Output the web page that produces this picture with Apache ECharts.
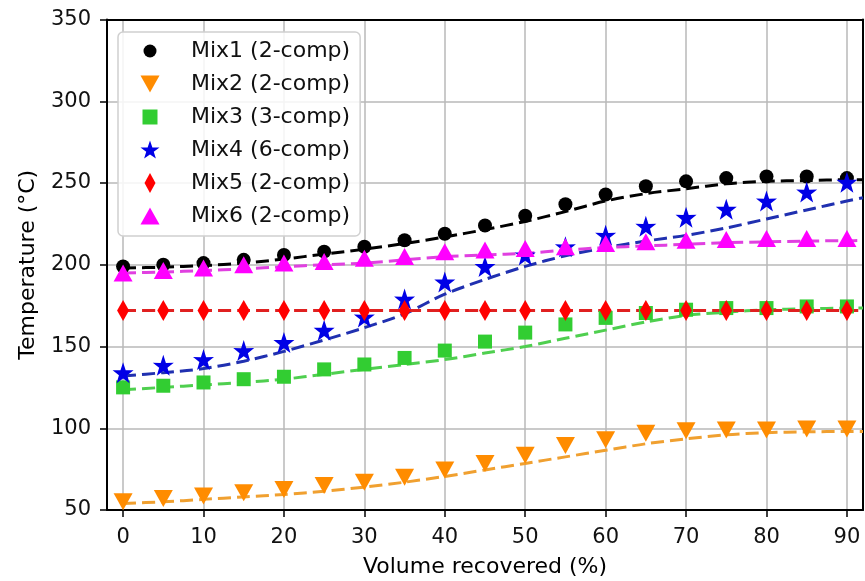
<!DOCTYPE html>
<html>
<head>
<meta charset="utf-8">
<script src="https://cdn.jsdelivr.net/npm/echarts@6/dist/echarts.min.js"></script>
<style>html,body{margin:0;padding:0;background:#fff}#c{width:865px;height:581px}</style>
</head>
<body>
<div id="c"></div>
<script>
// Measured data (x = volume recovered %, y = temperature °C)
const xs = [0,5,10,15,20,25,30,35,40,45,50,55,60,65,70,75,80,85,90];
const mix1 = [199,200,201,203,206,208,211,215,219,224,230,237,243,248,251,253,254,254,253];
const mix2 = [55,57,58.5,60.5,62.5,65,67,70,74.5,78.5,83.5,89.5,93,97,98.5,99,99,99.5,99.5];
const mix3 = [125,126,128,130,131.5,136,139,143,147.5,153,158.5,163.5,167.5,170.5,172.5,173.5,173.5,174.5,174.5];
const mix4 = [134,138.5,142,147.5,152.5,160,168,179,189.5,199,206,211,218,223.5,229,234,239,244.5,250.5];
const mix5 = [172,172,172,172,172,172,172,172,172,172,172,172,172,172,172,172,172,172,172];
const mix6 = [195,196.5,198,200,201,202,204,205,208,209,210,211,213,214,215,215.5,216,216,216];

// Fitted (dashed) curves
const fitX = [0,5,10,15,20,25,30,35,40,45,50,55,60,65,70,75,80,85,90,92];
const fit1 = [198,198.5,199.5,201,203.5,206.5,209.5,213,217,221.5,226.5,232.5,239,243.5,246.5,249.5,251,251.5,252,252];
const fit2 = [54,55,56.5,58,59.5,61.5,64,67,70.5,74.5,78.5,82.5,86.5,90.5,93.5,96,97.3,97.8,98,98];
const fit3 = [123.5,125,126.5,128,130,133,136,139,142,146,150,155,160,165,169,171,172.5,173,173.5,173.5];
const fit4 = [132,134,136.5,141,147,154,161.5,170,182,191,199,205.5,210.5,214.5,218,222.5,228,233.5,239,241];
const fit5 = [172,172,172,172,172,172,172,172,172,172,172,172,172,172,172,172,172,172,172,172];
const fit6 = [195,195.5,196.5,197.5,198.8,200,201,203,205,206,207,209,210.5,211.5,212.5,213.5,214,214.5,214.7,214.8];

const names = ['Mix1 (2-comp)','Mix2 (2-comp)','Mix3 (3-comp)','Mix4 (6-comp)','Mix5 (2-comp)','Mix6 (2-comp)'];
const xTicks = [0,10,20,30,40,50,60,70,80,90];

const STAR = 'path://M50,0 L61.8,35.1 L97.6,34.5 L68.8,56.2 L79.4,90.5 L50,70 L20.6,90.5 L31.2,56.2 L2.4,34.5 L38.2,35.1 Z';
const DOWN = 'path://M0,0 L10,0 L5,9 Z';
const UP = 'path://M5,0 L10,9 L0,9 Z';
const DIAM = 'path://M5,0 L10,8 L5,16 L0,8 Z';

// legend icons padded to a 20x20 box
const L_CIRCLE = 'path://M0,0 M20,20 M3.5,10 A6.5,6.5 0 1 1 16.5,10 A6.5,6.5 0 1 1 3.5,10 Z';
const L_DOWN = 'path://M0,0 M20,20 M0.5,1.5 L19.5,1.5 L10,18.5 Z';
const L_RECT = 'path://M0,0 M20,20 M2.5,2.5 L17.5,2.5 L17.5,17.5 L2.5,17.5 Z';
const L_STAR = 'path://M0,0 M20,20 M10,0.5 L12.36,7.52 L19.52,7.4 L13.76,11.74 L15.88,18.6 L10,14.5 L4.12,18.6 L6.24,11.74 L0.48,7.4 L7.64,7.52 Z';
const L_DIAM = 'path://M0,0 M20,20 M10,0 L15.5,10 L10,20 L4.5,10 Z';
const L_UP = 'path://M0,0 M20,20 M10,1.5 L19.5,18.5 L0.5,18.5 Z';

const markers = [
  {d: mix1, f: fit1, color: '#000000', line: '#000000', symbol: 'circle', size: 14, icon: L_CIRCLE},
  {d: mix2, f: fit2, color: '#ff8c00', line: '#f0a030', symbol: DOWN, size: [19,17], icon: L_DOWN},
  {d: mix3, f: fit3, color: '#32cd32', line: '#4fcf4f', symbol: 'rect', size: 14, icon: L_RECT},
  {d: mix4, f: fit4, color: '#0000e6', line: '#2030b0', symbol: STAR, size: 21, icon: L_STAR},
  {d: mix5, f: fit5, color: '#ff0000', line: '#e02020', symbol: DIAM, size: [12,21], icon: L_DIAM},
  {d: mix6, f: fit6, color: '#ff00ff', line: '#e040e0', symbol: UP, size: [19,17], icon: L_UP}
];

const pair = (xa, ya) => xa.map((x, i) => [x, ya[i]]);

const series = [];
markers.forEach((m) => {
  series.push({
    type: 'line', name: 'fit', data: pair(fitX, m.f), showSymbol: false, symbol: 'none',
    smooth: 0.3, z: 2, clip: true, silent: true,
    lineStyle: {color: m.line, width: 3, type: [13,6]}
  });
});
markers.forEach((m, i) => {
  series.push({
    type: 'scatter', name: names[i], data: pair(xs, m.d), symbol: m.symbol, symbolSize: m.size,
    z: 3, itemStyle: {color: m.color, opacity: 1}
  });
});

const font = 'DejaVu Sans';
const chart = echarts.init(document.getElementById('c'), null, {renderer: 'canvas'});
chart.setOption({
  animation: false,
  backgroundColor: '#fff',
  grid: {left: 107, top: 19.5, right: 2, bottom: 71, outerBoundsMode: 'none', containLabel: false},
  xAxis: [{
    type: 'value', min: -2, max: 92,
    name: 'Volume recovered (%)', nameLocation: 'middle', nameGap: 46,
    nameTextStyle: {fontFamily: font, fontSize: 22, color: '#000'},
    axisLine: {show: true, onZero: false, lineStyle: {color: '#000', width: 2}},
    axisTick: {show: true, inside: false, length: 7, customValues: xTicks, lineStyle: {color: '#000', width: 1.5}},
    axisLabel: {customValues: xTicks, margin: 17, fontFamily: font, fontSize: 21, color: '#111'},
    splitLine: {show: true, lineStyle: {color: '#b8b8b8', width: 1.5}}
  }, {
    type: 'value', min: -2, max: 92, position: 'top',
    axisLine: {show: true, onZero: false, lineStyle: {color: '#000', width: 2}},
    axisTick: {show: false}, axisLabel: {show: false}, splitLine: {show: false}
  }],
  yAxis: [{
    type: 'value', min: 50, max: 350, interval: 50,
    name: 'Temperature (°C)', nameLocation: 'middle', nameGap: 68,
    nameTextStyle: {fontFamily: font, fontSize: 22, color: '#000'},
    axisLine: {show: true, onZero: false, lineStyle: {color: '#000', width: 2}},
    axisTick: {show: true, inside: false, length: 7, lineStyle: {color: '#000', width: 1.5}},
    axisLabel: {margin: 16, fontFamily: font, fontSize: 21, color: '#111'},
    splitLine: {show: true, lineStyle: {color: '#b8b8b8', width: 1.5}}
  }, {
    type: 'value', min: 50, max: 350, interval: 50, position: 'right',
    axisLine: {show: true, onZero: false, lineStyle: {color: '#000', width: 2}},
    axisTick: {show: false}, axisLabel: {show: false}, splitLine: {show: false}
  }],
  legend: {
    data: names.map((n, i) => ({name: n, icon: markers[i].icon})),
    orient: 'vertical', left: 118, top: 32,
    itemWidth: 20, itemHeight: 20, itemGap: 11,
    padding: [8, 10, 9, 22],
    backgroundColor: 'rgba(255,255,255,0.85)', borderColor: '#d0d0d0', borderWidth: 1.5, borderRadius: 5,
    textStyle: {fontFamily: font, fontSize: 22, color: '#111', lineHeight: 22, padding: [0,0,0,26]}
  },
  series: series
});
</script>
</body>
</html>
